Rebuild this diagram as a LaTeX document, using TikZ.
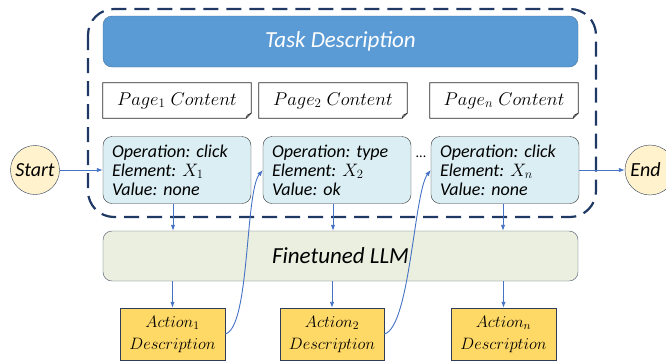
\RequirePackage{fix-cm}
\documentclass[tikz,border=0pt]{standalone}
\usepackage{fontspec}
\setmainfont{Carlito}
\frenchspacing
\usetikzlibrary{arrows.meta,positioning}

\definecolor{taskblue}{HTML}{5B9BD5}
\definecolor{taskline}{HTML}{41719C}
\definecolor{opfill}{HTML}{DAEEF3}
\definecolor{llmfill}{HTML}{EBEFDF}
\definecolor{llmline}{HTML}{44546A}
\definecolor{actfill}{HTML}{FFD966}
\definecolor{actline}{HTML}{2F3D5A}
\definecolor{endfill}{HTML}{FFF2CC}
\definecolor{flowblue}{HTML}{4472C4}
\definecolor{framenavy}{HTML}{1F3864}

\tikzset{
  taskbox/.style = {draw=taskline, fill=taskblue, rounded corners=9pt, minimum width=475pt,
    minimum height=51pt, text=white, font=\itshape\fontsize{23}{27}\selectfont},
  pagebox/.style = {minimum width=148pt, minimum height=35pt, inner sep=0pt,
    font=\fontsize{18.5}{22}\selectfont},
  pageline/.style = {draw=black!85, line width=0.7pt},
  opbox/.style = {draw=black!80, fill=opfill, rounded corners=9pt, minimum width=148pt,
    minimum height=67pt, text width=130pt, align=left, inner xsep=9pt,
    font=\itshape\fontsize{18}{19}\selectfont},
  llmbox/.style = {draw=llmline, fill=llmfill, rounded corners=9pt, minimum width=475pt,
    minimum height=50pt, font=\itshape\fontsize{23}{27}\selectfont},
  actbox/.style = {draw=actline, fill=actfill, minimum width=105pt, minimum height=52pt,
    align=center, inner sep=1pt, font=\fontsize{16.5}{22}\selectfont},
  endpoint/.style = {circle, draw=actline, fill=endfill, minimum size=49pt, inner sep=0pt,
    font=\itshape\fontsize{20}{24}\selectfont},
  flow/.style = {draw=flowblue, line width=0.9pt, -{Latex[length=6pt,width=4.5pt]}},
  frame/.style = {draw=framenavy, line width=2.2pt, rounded corners=26pt,
    dash pattern=on 15pt off 8pt}
}

\begin{document}
\begin{tikzpicture}[x=1pt, y=-1pt]
  \useasboundingbox (0,0) rectangle (666,360);

  % dashed frame round the task part
  \draw [frame] (88,9) rectangle (596,217);

  \node [taskbox] (task) at (340.5,41.5) { Task Description };

  % page contents
  \node [pagebox] (page1) at (177,100.5) { $Page_1\;Content$ };
  \node [pagebox] (page2) at (333,100.5) { $Page_2\;Content$ };
  \node [pagebox] (pagen) at (504,100.5) { $Page_n\;Content$ };
  \draw [pageline] (page1.north west) -- (page1.north east) -- ([yshift=5pt]page1.south east)
    -- ([xshift=-5pt]page1.south east) -- (page1.south west) -- cycle;
  \draw [pageline] ([yshift=5pt]page1.south east) -- ([xshift=-4pt,yshift=3pt]page1.south east)
    -- ([xshift=-5pt]page1.south east);
  \draw [pageline] (page2.north west) -- (page2.north east) -- ([yshift=5pt]page2.south east)
    -- ([xshift=-5pt]page2.south east) -- (page2.south west) -- cycle;
  \draw [pageline] ([yshift=5pt]page2.south east) -- ([xshift=-4pt,yshift=3pt]page2.south east)
    -- ([xshift=-5pt]page2.south east);
  \draw [pageline] (pagen.north west) -- (pagen.north east) -- ([yshift=5pt]pagen.south east)
    -- ([xshift=-5pt]pagen.south east) -- (pagen.south west) -- cycle;
  \draw [pageline] ([yshift=5pt]pagen.south east) -- ([xshift=-4pt,yshift=3pt]pagen.south east)
    -- ([xshift=-5pt]pagen.south east);

  % operations
  \node [opbox] (op1) at (177,170) { Operation: click\\ Element: $X_1$\\ Value: none };
  \node [opbox] (op2) at (337,170) { Operation: type\\ Element: $X_2$\\ Value: ok };
  \node [opbox] (opn) at (505,170) { Operation: click\\ Element: $X_n$\\ Value: none };
  \node [font=\fontsize{14}{14}\selectfont] (dots) at (421,157) { ... };

  \node [endpoint] (start) at (35,170) { Start };
  \node [endpoint, minimum size=50pt] (end) at (650,170) { \hspace*{3pt}End\hspace*{12pt} };

  \node [llmbox] (llm) at (340.5,256) { Finetuned LLM };

  % actions
  \node [actbox] (act1) at (172.5,334) { $Action_1$\\ $Description$ };
  \node [actbox, minimum width=104pt] (act2) at (332,334) { $Action_2$\\ $Description$ };
  \node [actbox] (actn) at (503.5,334) { $Action_n$\\ $Description$ };

  \draw [flow] (start) -- (op1);
  \draw [flow] (opn) -- (end);
  \draw [flow] ([xshift=-4pt]op1.south) -- ([xshift=-4pt]op1.south |- llm.north);
  \draw [flow] ([xshift=-4pt]op2.south) -- ([xshift=-4pt]op2.south |- llm.north);
  \draw [flow] ([xshift=-2pt]opn.south) -- ([xshift=-2pt]opn.south |- llm.north);
  \draw [flow] (llm.south -| act1) -- (act1);
  \draw [flow] (llm.south -| act2) -- (act2);
  \draw [flow] (llm.south -| actn) -- (actn);
  \draw [flow] (act1.east) .. controls (250,328) and (245,192) .. (op2.west);
  \draw [flow] (act2.east) .. controls (410,328) and (414,192) .. (opn.west);
\end{tikzpicture}
\end{document}
